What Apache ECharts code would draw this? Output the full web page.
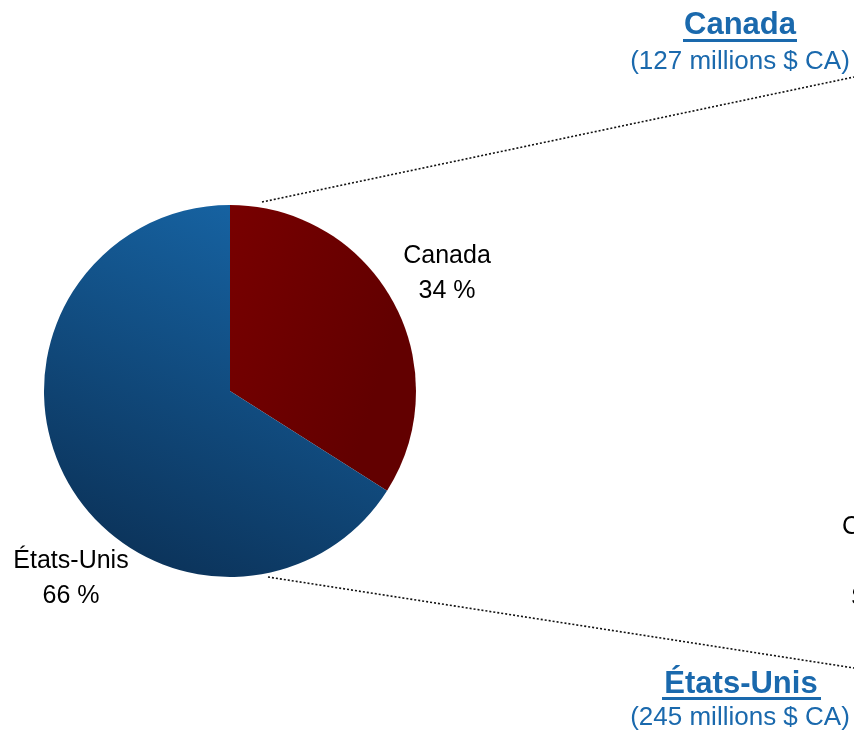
<!DOCTYPE html>
<html>
<head>
<meta charset="utf-8">
<script src="https://cdn.jsdelivr.net/npm/echarts@6/dist/echarts.min.js"></script>
<style>
html,body{margin:0;padding:0;background:#fff;}
#chart{width:854px;height:730px;}
</style>
</head>
<body>
<div id="chart"></div>
<script>
var categories = ['Canada', 'États-Unis'];
var shares = [34, 66];
var amounts = ['(127 millions $ CA)', '(245 millions $ CA)'];

var chart = echarts.init(document.getElementById('chart'), null, {renderer: 'canvas'});
var FONT = '"Liberation Sans", Arial, sans-serif';
var blueTxt = '#1a69ad';

var colors = [
  {type: 'linear', x: 0, y: 0, x2: 1, y2: 0.2, colorStops: [{offset: 0, color: '#780000'}, {offset: 1, color: '#620000'}]},
  {type: 'linear', x: 0.25, y: 1, x2: 0.75, y2: 0, colorStops: [{offset: 0, color: '#0b3157'}, {offset: 1, color: '#1766a7'}]}
];

var labelPos = [[447, 274], [71, 579]];

var option = {
  backgroundColor: '#fff',
  animation: false,
  series: [{
    type: 'pie',
    center: [230, 391],
    radius: 186,
    startAngle: 90,
    clockwise: true,
    avoidLabelOverlap: false,
    data: categories.map(function (c, i) {
      return {name: c, value: shares[i], itemStyle: {color: colors[i]}};
    }),
    itemStyle: {borderWidth: 0},
    label: {
      show: true,
      position: 'outside',
      formatter: function (p) { return p.name + '\n' + shares[p.dataIndex] + ' %'; },
      fontFamily: FONT,
      fontSize: 25,
      lineHeight: 35,
      color: '#000',
      align: 'center'
    },
    labelLine: {show: false},
    labelLayout: function (params) {
      var p = labelPos[params.dataIndex];
      return {x: p[0], y: p[1], align: 'center', verticalAlign: 'middle', hideOverlap: false, moveOverlap: null};
    },
    emphasis: {disabled: true}
  }],
  graphic: [
    {type: 'line', shape: {x1: 262, y1: 202, x2: 854, y2: 77}, style: {stroke: '#111', lineWidth: 1.6, lineDash: [2, 2]}},
    {type: 'line', shape: {x1: 268, y1: 577, x2: 854, y2: 668}, style: {stroke: '#111', lineWidth: 1.6, lineDash: [2, 2]}},
    {type: 'text', x: 740, y: 25, style: {text: categories[0], font: 'bold 31px ' + FONT, fill: blueTxt, align: 'center', verticalAlign: 'middle'}},
    {type: 'rect', shape: {x: 683, y: 39, width: 114, height: 3}, style: {fill: blueTxt}},
    {type: 'text', x: 740, y: 62, style: {text: amounts[0], font: '26px ' + FONT, fill: blueTxt, align: 'center', verticalAlign: 'middle'}},
    {type: 'text', x: 741, y: 684, style: {text: categories[1], font: 'bold 31px ' + FONT, fill: blueTxt, align: 'center', verticalAlign: 'middle'}},
    {type: 'rect', shape: {x: 662, y: 697, width: 159, height: 3}, style: {fill: blueTxt}},
    {type: 'text', x: 740, y: 718, style: {text: amounts[1], font: '26px ' + FONT, fill: blueTxt, align: 'center', verticalAlign: 'middle'}},
    {type: 'text', x: 842, y: 527, style: {text: 'Canada', font: '25px ' + FONT, fill: '#000', align: 'left', verticalAlign: 'middle'}},
    {type: 'text', x: 851, y: 598, style: {text: 'Sa', font: '25px ' + FONT, fill: '#000', align: 'left', verticalAlign: 'middle'}}
  ]
};
chart.setOption(option);
</script>
</body>
</html>
